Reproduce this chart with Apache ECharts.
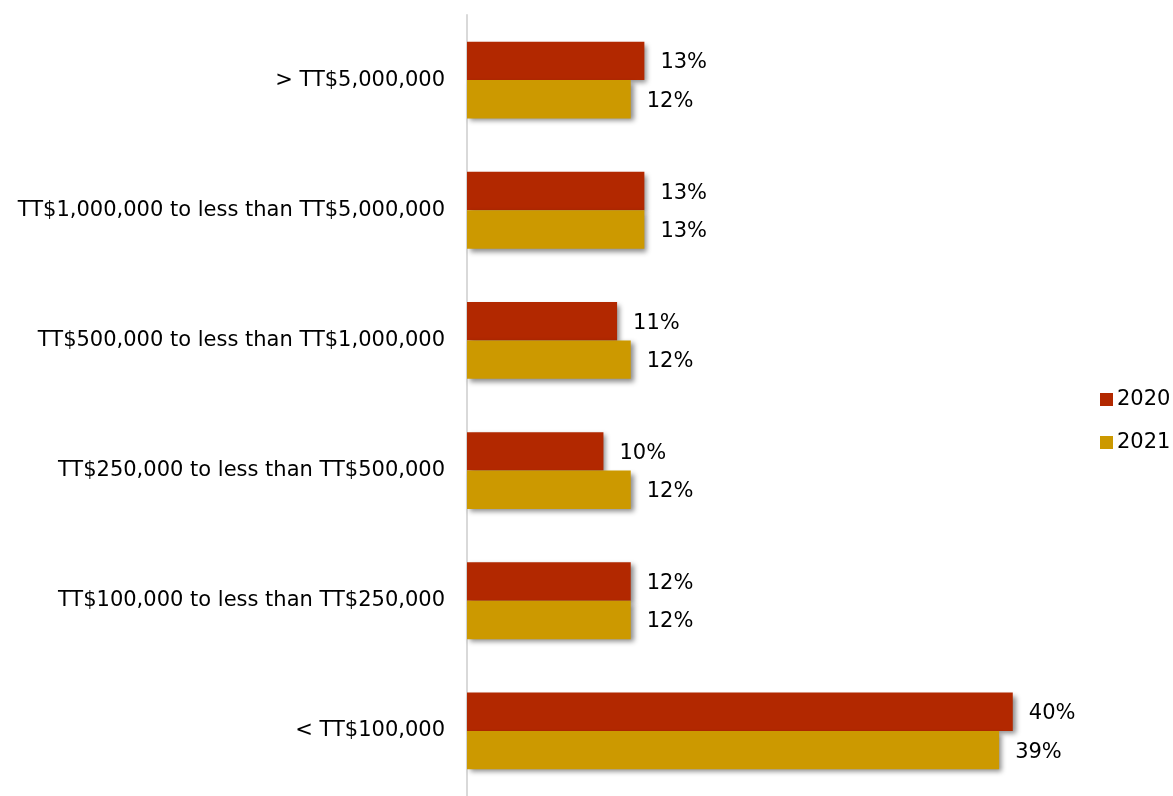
<!DOCTYPE html>
<html>
<head>
<meta charset="utf-8">
<script src="https://cdn.jsdelivr.net/npm/echarts@6/dist/echarts.min.js"></script>
<style>
  html, body { margin: 0; padding: 0; background: #ffffff; }
  #chart { width: 1173px; height: 796px; }
</style>
</head>
<body>
<div id="chart"></div>
<script>
// Revenue bands, listed top to bottom
const categories = [
  '> TT$5,000,000',
  'TT$1,000,000 to less than TT$5,000,000',
  'TT$500,000 to less than TT$1,000,000',
  'TT$250,000 to less than TT$500,000',
  'TT$100,000 to less than TT$250,000',
  '< TT$100,000'
];
const values2020 = [13, 13, 11, 10, 12, 40];
const values2021 = [12, 13, 12, 12, 12, 39];
const seriesNames = ['2020', '2021'];
const seriesColors = ['#b22800', '#cc9900'];

const FONT = 'DejaVu Sans';
const FONT_SIZE = 21;

const barShadow = {
  shadowColor: 'rgba(0,0,0,0.45)',
  shadowBlur: 5,
  shadowOffsetX: 3,
  shadowOffsetY: 3
};

function makeSeries(name, data, color) {
  return {
    name: name,
    type: 'bar',
    data: data,
    barGap: '0%',
    barCategoryGap: '41%',
    itemStyle: Object.assign({ color: color }, barShadow),
    label: {
      show: true,
      position: 'right',
      distance: 16,
      offset: [0, 2],
      formatter: '{c}%',
      fontFamily: FONT,
      fontSize: FONT_SIZE,
      color: '#000000'
    },
    emphasis: { disabled: true }
  };
}

const chart = echarts.init(document.getElementById('chart'), null, { renderer: 'canvas' });
chart.setOption({
  animation: false,
  backgroundColor: '#ffffff',
  grid: { left: 467, width: 614, top: 15, bottom: -7, containLabel: false },
  legend: {
    orient: 'vertical',
    left: 1095,
    top: 384,
    padding: 5,
    itemWidth: 13,
    itemHeight: 13,
    itemGap: 22,
    icon: 'rect',
    data: seriesNames,
    textStyle: { fontFamily: FONT, fontSize: FONT_SIZE, color: '#000000', padding: [0, 0, 0, -1] }
  },
  xAxis: {
    type: 'value',
    min: 0,
    max: 45,
    show: false
  },
  yAxis: {
    type: 'category',
    inverse: true,
    data: categories,
    axisLine: { show: true, lineStyle: { color: '#d9d9d9', width: 2 } },
    axisTick: { show: false },
    axisLabel: { fontFamily: FONT, fontSize: FONT_SIZE, color: '#000000', margin: 22 },
    splitLine: { show: false }
  },
  series: [
    makeSeries(seriesNames[0], values2020, seriesColors[0]),
    makeSeries(seriesNames[1], values2021, seriesColors[1])
  ]
});
</script>
</body>
</html>
